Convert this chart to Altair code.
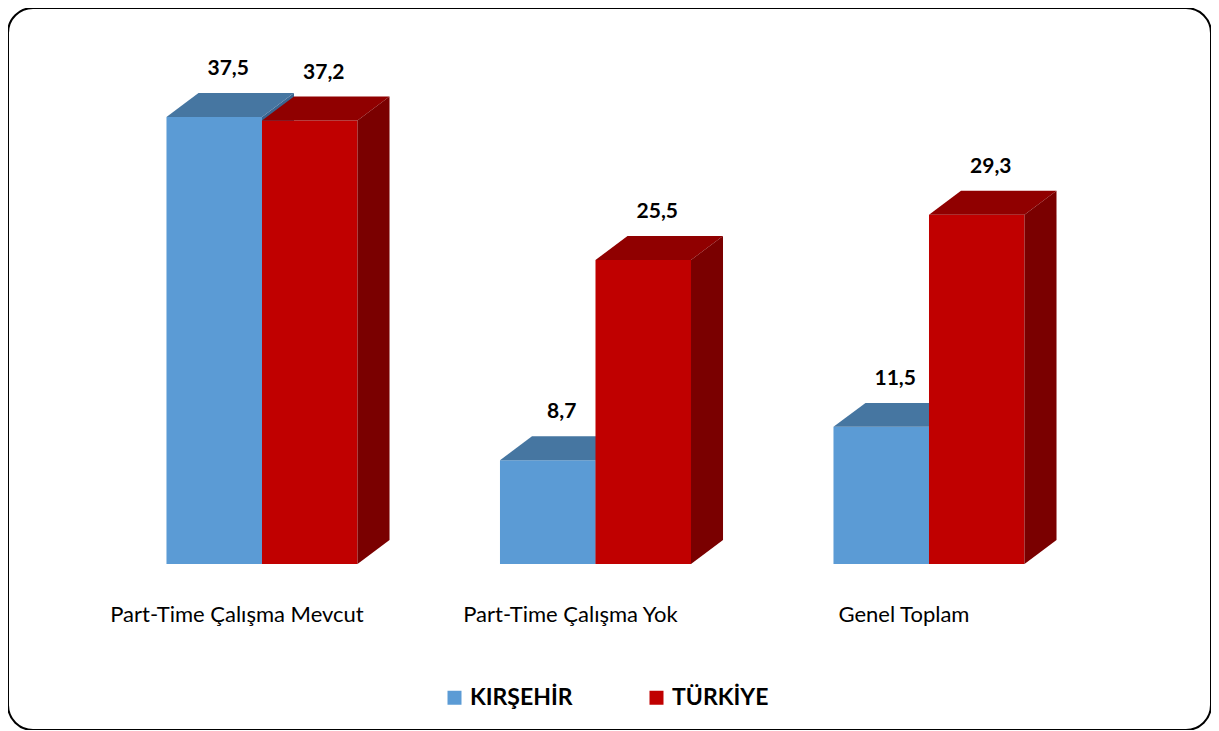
import altair as alt
import pandas as pd

categories = ["Part-Time Çalışma Mevcut", "Part-Time Çalışma Yok", "Genel Toplam"]
series = ["KIRŞEHİR", "TÜRKİYE"]
kirsehir = [37.5, 8.7, 11.5]
turkiye = [37.2, 25.5, 29.3]
labels_kir = ["37,5", "8,7", "11,5"]
labels_tur = ["37,2", "25,5", "29,3"]

front_col = {"KIRŞEHİR": "#5B9BD5", "TÜRKİYE": "#C00000"}
top_col = {"KIRŞEHİR": "#4676A1", "TÜRKİYE": "#900000"}
side_col = {"KIRŞEHİR": "#3A6590", "TÜRKİYE": "#7A0000"}

# geometry (data units)
BW = 0.2864   # bar width
DX = 0.096    # depth, x
DY = 2.01     # depth, y
XMIN, XMAX = -0.7616, 2.8456
YMIN, YMAX = -13.93, 46.64

fronts, faces, texts, cats = [], [], [], []
for i, cat in enumerate(categories):
    cats.append({"x": i - 0.075, "y": 0.0, "t": cat})
    for s, vals, labs in ((series[0], kirsehir, labels_kir), (series[1], turkiye, labels_tur)):
        v = vals[i]
        xl = i - BW if s == series[0] else i
        xr = xl + BW
        fronts.append({"series": s, "x": xl, "x2": xr, "y": 0.0, "y2": v})
        bid = f"{s}-{i}"
        # top face
        for px, lo, hi in ((xl, v, v), (xl + DX, v, v + DY), (xr, v, v + DY), (xr + DX, v + DY, v + DY)):
            faces.append({"series": s, "face": "top", "bid": bid, "x": px, "lo": lo, "hi": hi})
        # side face
        for px, lo, hi in ((xr, 0.0, v), (xr + DX, DY, v + DY)):
            faces.append({"series": s, "face": "side", "bid": bid, "x": px, "lo": lo, "hi": hi})
        texts.append({"series": s, "x": (xl + xr) / 2 + 0.042, "y": v + DY, "t": labs[i]})

fdf = pd.DataFrame(fronts)
adf = pd.DataFrame(faces)
tdf = pd.DataFrame(texts)
cdf = pd.DataFrame(cats)

xs = alt.Scale(domain=[XMIN, XMAX], nice=False, zero=False)
ys = alt.Scale(domain=[YMIN, YMAX], nice=False, zero=False)

layers = []
for s in series:
    front = alt.Chart(fdf).transform_filter(alt.datum.series == s).mark_rect().encode(
        x=alt.X("x:Q", scale=xs, axis=None),
        x2="x2:Q",
        y=alt.Y("y:Q", scale=ys, axis=None),
        y2="y2:Q",
        color=alt.Color("series:N",
                        scale=alt.Scale(domain=series, range=[front_col[k] for k in series]),
                        legend=alt.Legend(title=None, orient="none", direction="horizontal",
                                          legendX=435, legendY=678, symbolType="square",
                                          symbolSize=196, symbolStrokeWidth=0, labelFont="Lato",
                                          labelFontWeight="bold", labelFontSize=23, labelColor="black",
                                          labelOffset=4, columnPadding=72, padding=0, labelLimit=0)),
    )
    top = alt.Chart(adf).transform_filter(
        (alt.datum.series == s) & (alt.datum.face == "top")
    ).mark_area(orient="vertical", color=top_col[s]).encode(
        x=alt.X("x:Q", scale=xs, axis=None),
        y=alt.Y("lo:Q", scale=ys, axis=None),
        y2="hi:Q",
        detail="bid:N",
    )
    side = alt.Chart(adf).transform_filter(
        (alt.datum.series == s) & (alt.datum.face == "side")
    ).mark_area(orient="vertical", color=side_col[s]).encode(
        x=alt.X("x:Q", scale=xs, axis=None),
        y=alt.Y("lo:Q", scale=ys, axis=None),
        y2="hi:Q",
        detail="bid:N",
    )
    if s == series[0]:
        layers += [side, front, top]
    else:
        layers += [front, top, side]

vlabels = alt.Chart(tdf).mark_text(font="Lato", fontWeight="bold", fontSize=21, dy=-24,
                                   baseline="middle", color="black").encode(
    x=alt.X("x:Q", scale=xs, axis=None),
    y=alt.Y("y:Q", scale=ys, axis=None),
    text="t:N",
)
clabels = alt.Chart(cdf).mark_text(font="Lato", fontSize=22, dy=51, baseline="middle",
                                   color="black").encode(
    x=alt.X("x:Q", scale=xs, axis=None),
    y=alt.Y("y:Q", scale=ys, axis=None),
    text="t:N",
)

chart = alt.layer(*layers, vlabels, clabels).properties(
    width=1203, height=722,
    autosize=alt.AutoSizeParams(type="none"),
    padding=0,
).configure_view(
    stroke="black", strokeWidth=2, cornerRadius=25
)

chart.save("out.html", embed_options={"renderer": "svg", "actions": False})
